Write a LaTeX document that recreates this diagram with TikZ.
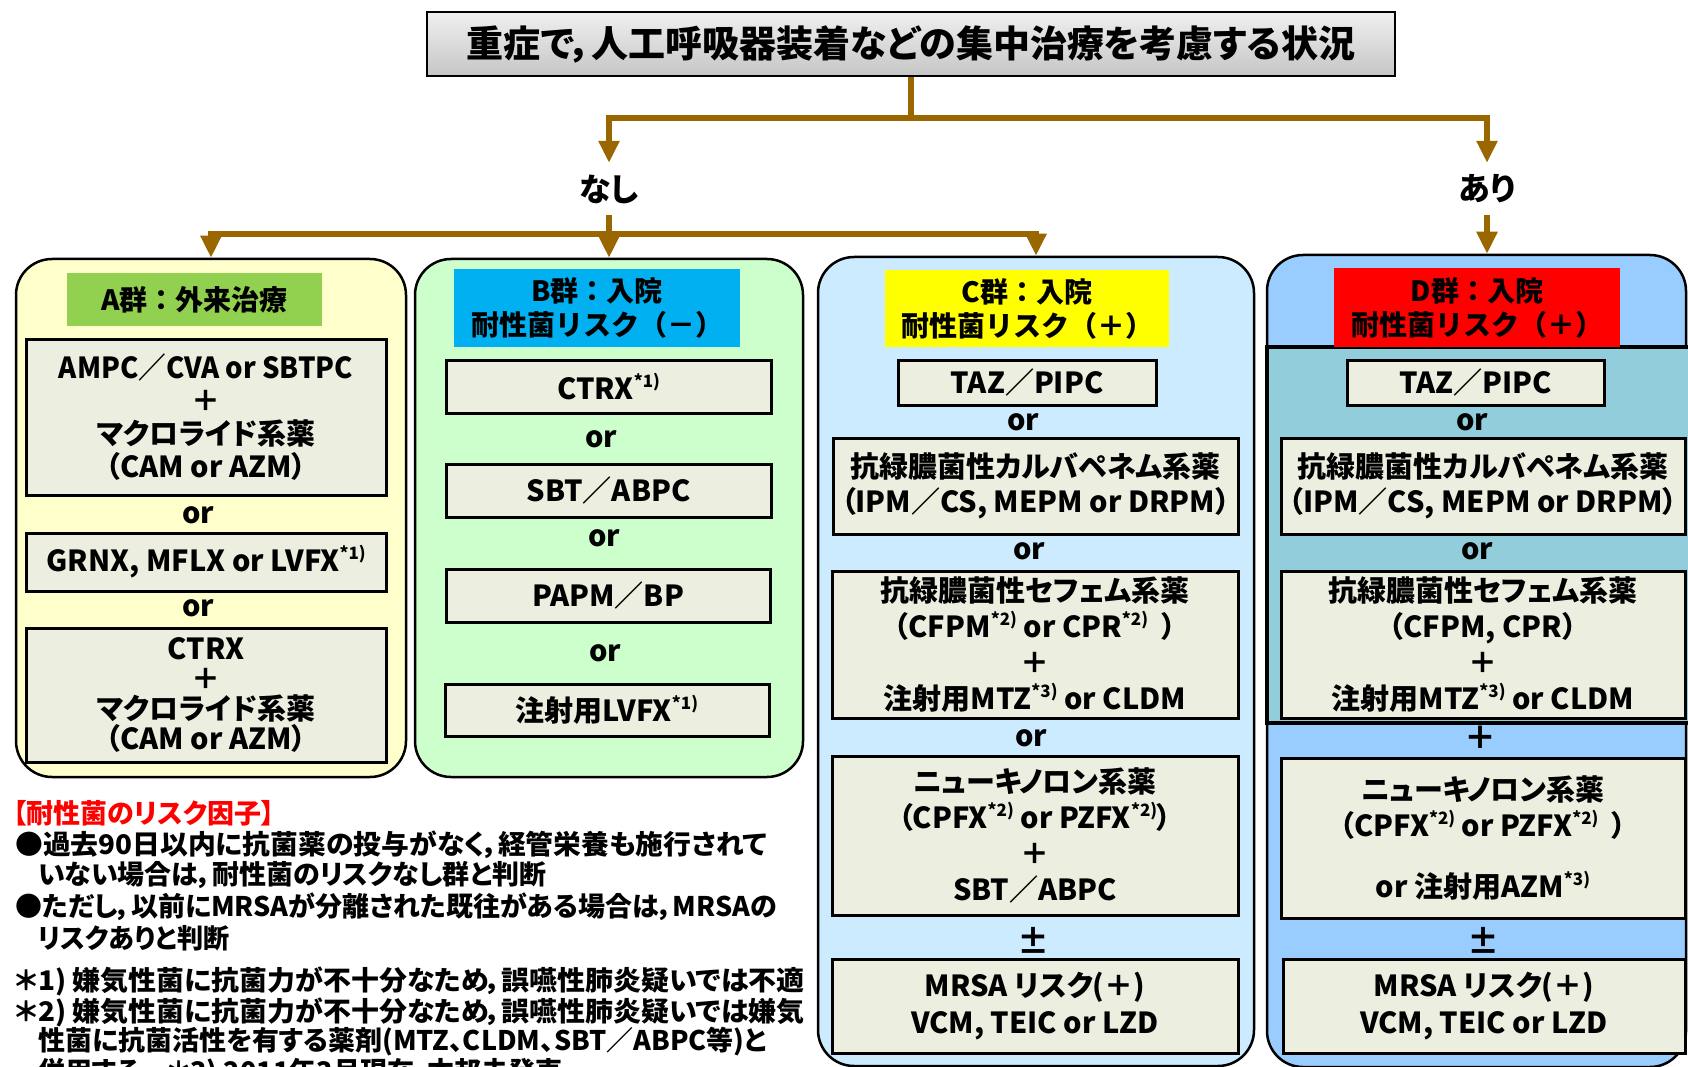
\documentclass[tikz,border=0pt]{standalone}
\usepackage{fontspec}
\usepackage{graphicx}
\setmainfont{Noto Sans CJK JP}[RawFeature=+palt]
\usetikzlibrary{arrows.meta}
\definecolor{brn}{HTML}{996600}
\definecolor{boxfill}{HTML}{ECEFE0}
\definecolor{afill}{HTML}{FFFFCC}
\definecolor{bfill}{HTML}{CCFFCC}
\definecolor{cfill}{HTML}{CCEBFF}
\definecolor{dfill}{HTML}{99CCFF}
\definecolor{dinner}{HTML}{92CDDC}
\definecolor{alab}{HTML}{92D050}
\definecolor{blab}{HTML}{00B0F0}
\definecolor{clab}{HTML}{FFFF00}
\definecolor{dlab}{HTML}{FF0000}
\newcommand\fsz[2]{\fontsize{#1pt}{#2pt}\selectfont\bfseries}
\newcommand\sps[1]{\raisebox{0.42em}{\fontsize{17pt}{17pt}\selectfont #1}}
\newcommand\hs[2]{\scalebox{#1}[1]{#2}}
\begin{document}
\begin{tikzpicture}[x=1pt,y=-1pt,
  conn/.style={draw=brn, line width=6.5pt, -{Triangle[length=22pt,width=20pt]}},
  plainln/.style={draw=brn, line width=6.5pt},
  grp/.style={draw=black, line width=2.5pt, rounded corners=36pt, inner sep=0pt},
  ibox/.style={draw=black, line width=3pt, fill=boxfill, align=center, inner sep=0pt, font=\fsz{29}{33}},
  lab/.style={inner sep=0pt, align=center, font=\fsz{28}{34}\addfontfeature{RawFeature=-palt}},
  ortxt/.style={inner sep=0pt, font=\fsz{29}{33}},
  note/.style={inner sep=0pt, anchor=west, font=\fsz{27}{31}},
  branch/.style={inner sep=0pt, minimum height=52pt, font=\fsz{32}{36}}
]
\useasboundingbox (0,0) rectangle (1688,1067);
\clip (0,0) rectangle (1688,1067);

% title
\node[draw=black, line width=2pt, top color=gray!12, bottom color=gray!45,
      minimum width=968pt, minimum height=64pt, inner sep=0pt, font=\fsz{37}{40}]
  (t) at (911,44) {重症で，人工呼吸器装着などの集中治療を考慮する状況};

% group boxes
\node[grp, fill=afill, minimum width=390pt, minimum height=518pt] (A) at (211,518) {};
\node[grp, fill=bfill, minimum width=388pt, minimum height=518pt] (B) at (609,518) {};
\node[grp, fill=cfill, minimum width=436pt, minimum height=809pt] (C) at (1036,661.5) {};
\node[grp, fill=dfill, minimum width=419pt, minimum height=812pt] (D) at (1476.5,661) {};

% D inner region
\fill[dinner, draw=black, line width=4pt] (1267,347) rectangle (1694,723);

% header labels
\node[lab, fill=alab, minimum width=255pt, minimum height=53pt] (Al) at (194.5,299.5) {A群：外来治療};
\node[lab, fill=blab, minimum width=286pt, minimum height=78pt] (Bl) at (597,308) {B群：入院\\耐性菌リスク（－）};
\node[lab, fill=clab, minimum width=284pt, minimum height=77pt] (Cl) at (1027,308.5) {C群：入院\\耐性菌リスク（＋）};
\node[lab, fill=dlab, minimum width=286pt, minimum height=79pt] (Dl) at (1477,307.5) {D群：入院\\耐性菌リスク（＋）};

% branch labels
\node[branch] (nashi) at (609,189) {なし};
\node[branch] (ari) at (1487,189) {あり};

% connectors
\coordinate (split) at (911,118);
\coordinate (j2) at (609,234);
\draw[plainln] (t.south) -- (split);
\draw[conn] (split) -| (nashi.north);
\draw[conn] (split) -| (ari.north);
\draw[conn] (nashi.south) -- (B.north);
\draw[conn] (j2) -| (A.north);
\draw[conn] (j2) -| (C.north);
\draw[conn] (ari.south) -- (ari.south |- D.north);

% A group
\node[ibox, minimum width=360pt, minimum height=156pt] (a1) at (206,417)
  {\hs{0.95}{AMPC／CVA or SBTPC}\\＋\\マクロライド系薬\\（CAM or AZM）};
\node[ortxt] (ora1) at (198,515) {or};
\node[ibox, minimum width=360pt, minimum height=58pt] (a2) at (206,562)
  {GRNX, MFLX or LVFX\sps{*1)}};
\node[ortxt] (ora2) at (198,608) {or};
\node[ibox, minimum width=360pt, minimum height=134pt, font=\fsz{29}{30}] (a3) at (206,695)
  {CTRX\\＋\\マクロライド系薬\\（CAM or AZM）};

% B group
\node[ibox, minimum width=325pt, minimum height=53pt] (b1) at (608.5,386.5) {CTRX\sps{*1)}};
\node[ortxt] (orb1) at (601,439) {or};
\node[ibox, minimum width=325pt, minimum height=53pt] (b2) at (608.5,490.5) {SBT／ABPC};
\node[ortxt] (orb2) at (604,538) {or};
\node[ibox, minimum width=324pt, minimum height=53pt] (b3) at (608,595.5) {PAPM／BP};
\node[ortxt] (orb3) at (605,653) {or};
\node[ibox, minimum width=324pt, minimum height=52pt] (b4) at (607,710) {注射用LVFX\sps{*1)}};

% C group
\node[ibox, minimum width=258pt, minimum height=45pt] (c1) at (1027,382.5) {TAZ／PIPC};
\node[ortxt] (orc1) at (1023,422) {or};
\node[ibox, minimum width=405pt, minimum height=96pt, font=\fsz{29}{35}] (c2) at (1035.5,486)
  {抗緑膿菌性カルバペネム系薬\\（IPM／CS, MEPM or DRPM）};
\node[ortxt] (orc2) at (1029,551) {or};
\node[ibox, minimum width=406pt, minimum height=147pt, font=\fsz{29}{36}] (c3) at (1035,644.5)
  {抗緑膿菌性セフェム系薬\\（CFPM\sps{*2)} or CPR\sps{*2)}\ \ ）\\＋\\注射用MTZ\sps{*3)}\ or CLDM};
\node[ortxt] (orc3) at (1031,738) {or};
\node[ibox, minimum width=406pt, minimum height=159pt, font=\fsz{29}{36}] (c4) at (1035,835.5)
  {ニューキノロン系薬\\（CPFX\sps{*2)} or PZFX\sps{*2)}）\\＋\\SBT／ABPC};
\node[ortxt, font=\fsz{32}{34}] (pmc) at (1033,940) {±};
\node[ibox, minimum width=406pt, minimum height=94pt, font=\fsz{29}{37}] (c5) at (1035,1006)
  {MRSA リスク(＋)\\VCM, TEIC or LZD};

% D group
\node[ibox, minimum width=257pt, minimum height=45pt] (d1) at (1475.5,382.5) {TAZ／PIPC};
\node[ortxt] (ord1) at (1472,422) {or};
\node[ibox, minimum width=404pt, minimum height=96pt, font=\fsz{29}{35}] (d2) at (1483,486)
  {抗緑膿菌性カルバペネム系薬\\（IPM／CS, MEPM or DRPM）};
\node[ortxt] (ord2) at (1477,551) {or};
\node[ibox, minimum width=404pt, minimum height=147pt, font=\fsz{29}{36}] (d3) at (1483,644.5)
  {抗緑膿菌性セフェム系薬\\（CFPM, CPR）\\＋\\注射用MTZ\sps{*3)}\ or CLDM};
\node[ortxt, font=\fsz{32}{34}] (plusd) at (1480,738) {＋};
\node[ibox, minimum width=404pt, minimum height=160pt, font=\fsz{29}{36}] (d4) at (1483,838)
  {ニューキノロン系薬\\（CPFX\sps{*2)} or PZFX\sps{*2)}\ \ ）\\[25pt]or 注射用AZM\sps{*3)}};
\node[ortxt, font=\fsz{32}{34}] (pmd) at (1483,940) {±};
\node[ibox, minimum width=402pt, minimum height=94pt, font=\fsz{29}{37}] (d5) at (1484,1006)
  {MRSA リスク(＋)\\VCM, TEIC or LZD};

% notes
\node[note, text=dlab] (n0) at (13,813) {【耐性菌のリスク因子】};
\node[note] (n1) at (15,845) {\hs{1.03}{●過去90日以内に抗菌薬の投与がなく，経管栄養も施行されて}};
\node[note] (n2) at (38,875) {いない場合は，耐性菌のリスクなし群と判断};
\node[note] (n3) at (15,907) {●ただし，以前にMRSAが分離された既往がある場合は，MRSAの};
\node[note] (n4) at (38,938) {\hs{0.97}{リスクありと判断}};
\node[note] (n5) at (15,981) {\hs{1.035}{＊1) 嫌気性菌に抗菌力が不十分なため，誤嚥性肺炎疑いでは不適}};
\node[note] (n6) at (15,1012) {\hs{1.035}{＊2) 嫌気性菌に抗菌力が不十分なため，誤嚥性肺炎疑いでは嫌気}};
\node[note] (n7) at (38,1042) {性菌に抗菌活性を有する薬剤(MTZ、CLDM、SBT／ABPC等)と};
\node[note] (n8) at (38,1073) {併用する　＊3) 2011年3月現在，本邦未発売};
\end{tikzpicture}
\end{document}
